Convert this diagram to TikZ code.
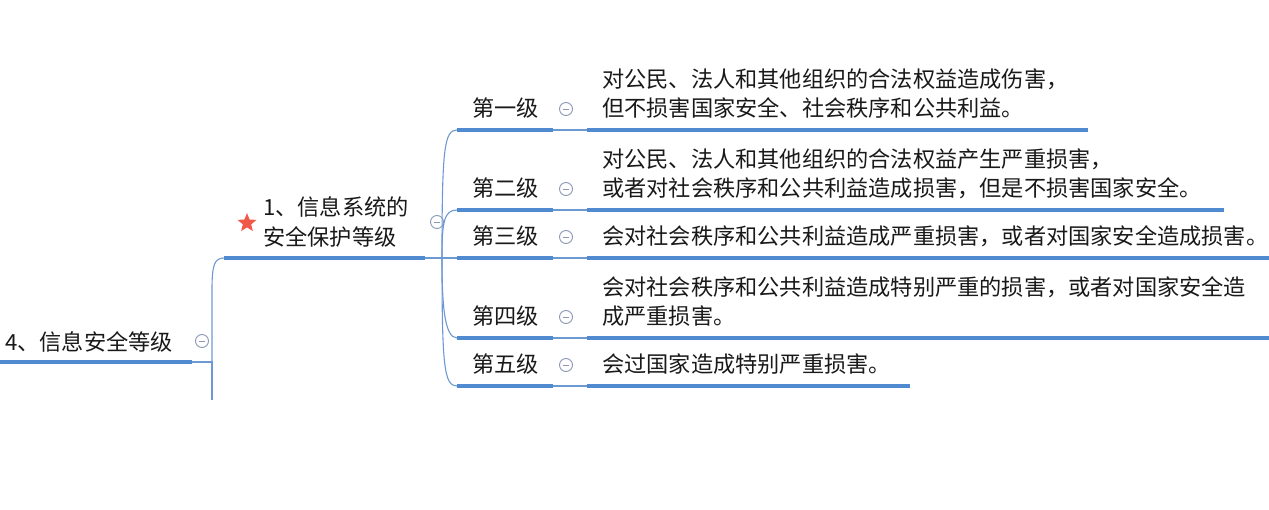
\documentclass[tikz,border=0pt]{standalone}
\usepackage{fontspec}
\setmainfont{Noto Sans CJK SC}
\usetikzlibrary{shapes.geometric}
\definecolor{ul}{RGB}{80,138,208}
\definecolor{thin}{RGB}{110,152,210}
\definecolor{txt}{RGB}{25,25,25}
\definecolor{icon}{RGB}{135,152,180}
\definecolor{starc}{RGB}{240,88,74}
\begin{document}
\begin{tikzpicture}[x=1pt,y=-1pt,
  under/.style={draw=ul,line width=3.2pt},
  conn/.style={draw=thin,line width=1.1pt},
  lbl/.style={anchor=base west,inner sep=0pt,text=txt,font=\fontsize{22.2}{29}\selectfont,align=left},
  collapse/.style={circle,draw=icon,line width=0.9pt,minimum size=13pt,inner sep=0pt,
    path picture={\draw[icon,line width=0.9pt] ([xshift=-3pt]path picture bounding box.center) -- ([xshift=3pt]path picture bounding box.center);}}
]
\useasboundingbox (0,0) rectangle (1269,510);

% ---------- root ----------
\coordinate (r-l) at (0,362);
\coordinate (r-r) at (192,362);
\coordinate (r-j) at (212,362);
\coordinate (r-dn) at (212,400);
\node[lbl] (root) at (5,350.5) {4、信息安全等级};
\node[collapse] (rc) at (202,341) {};
\draw[under] (r-l) -- (r-r);

% ---------- node 1 ----------
\coordinate (a-l) at (224,258);
\coordinate (a-r) at (425,258);
\coordinate (a-j) at (442,258);
\node[lbl,font=\fontsize{22.2}{30.5}\selectfont] (a) at (263,246) {1、信息系统的\\安全保护等级};
\node[star,star points=5,star point ratio=2.3,fill=starc,minimum size=20pt,inner sep=0pt] (astar) at (247,223) {};
\node[collapse] (ac) at (437,222) {};
\draw[under] (a-l) -- (a-r);

% root connectors
\draw[conn] (r-r) -- (r-j) -- (r-dn);
\draw[conn] (r-j) -- (212,290) .. controls (212,266) and (214,258) .. (a-l);

% ---------- levels ----------
% level 1
\coordinate (l1-l) at (457,130); \coordinate (l1-r) at (553,130);
\coordinate (d1-l) at (587,130); \coordinate (d1-r) at (1088,130);
\node[lbl] (l1) at (472,117) {第一级};
\node[collapse] (c1) at (566,109) {};
\node[lbl] (d1) at (602,117) {对公民、法人和其他组织的合法权益造成伤害，\\但不损害国家安全、社会秩序和公共利益。};
% level 2
\coordinate (l2-l) at (457,210); \coordinate (l2-r) at (553,210);
\coordinate (d2-l) at (587,210); \coordinate (d2-r) at (1224,210);
\node[lbl] (l2) at (472,197) {第二级};
\node[collapse] (c2) at (566,189) {};
\node[lbl] (d2) at (602,197) {对公民、法人和其他组织的合法权益产生严重损害，\\或者对社会秩序和公共利益造成损害，但是不损害国家安全。};
% level 3
\coordinate (l3-l) at (457,258); \coordinate (l3-r) at (553,258);
\coordinate (d3-l) at (587,258); \coordinate (d3-r) at (1269,258);
\node[lbl] (l3) at (472,245) {第三级};
\node[collapse] (c3) at (566,237) {};
\node[lbl] (d3) at (602,245) {会对社会秩序和公共利益造成严重损害，或者对国家安全造成损害。};
% level 4
\coordinate (l4-l) at (457,338); \coordinate (l4-r) at (553,338);
\coordinate (d4-l) at (587,338); \coordinate (d4-r) at (1269,338);
\node[lbl] (l4) at (472,325) {第四级};
\node[collapse] (c4) at (566,317) {};
\node[lbl] (d4) at (602,325) {会对社会秩序和公共利益造成特别严重的损害，或者对国家安全造\\成严重损害。};
% level 5
\coordinate (l5-l) at (457,386); \coordinate (l5-r) at (553,386);
\coordinate (d5-l) at (587,386); \coordinate (d5-r) at (910,386);
\node[lbl] (l5) at (472,373) {第五级};
\node[collapse] (c5) at (566,365) {};
\node[lbl] (d5) at (602,373) {会过国家造成特别严重损害。};

\foreach \i in {1,...,5}{
  \draw[conn] (l\i-r) -- (d\i-l);
  \draw[under] (l\i-l) -- (l\i-r);
  \draw[under] (d\i-l) -- (d\i-r);
}

% branch connectors from node 1
\draw[conn] (a-r) -- (l3-l);
\draw[conn] (a-j) .. controls (442,150) and (444,130) .. (l1-l);
\draw[conn] (a-j) .. controls (442,222) and (444,210) .. (l2-l);
\draw[conn] (a-j) .. controls (442,302) and (444,338) .. (l4-l);
\draw[conn] (a-j) .. controls (442,366) and (444,386) .. (l5-l);
\end{tikzpicture}
\end{document}
